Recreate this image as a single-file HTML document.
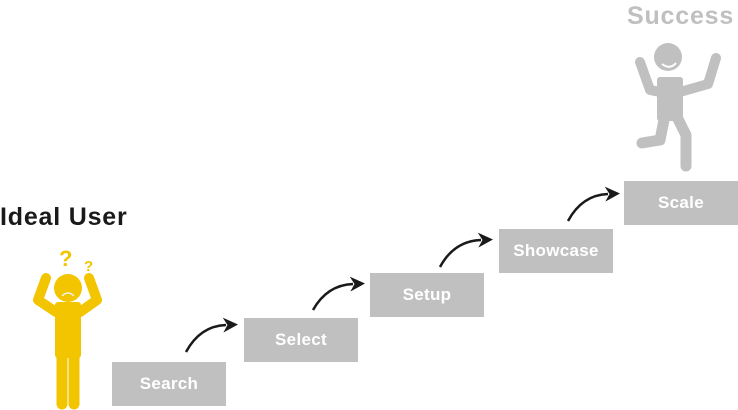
<!DOCTYPE html>
<html><head><style>
body{margin:0;width:738px;height:410px;background:#fff;overflow:hidden;position:relative;font-family:"Liberation Sans",sans-serif}
.b{position:absolute;width:114px;height:44px;background:#c0c0c0;color:#fff;font-weight:bold;font-size:17px;letter-spacing:0.3px;display:flex;align-items:center;justify-content:center}
.t{position:absolute;font-weight:bold;font-size:25px;letter-spacing:0.8px}
</style></head><body>
<div class="t" style="left:0;top:203px;color:#1a1a1a">Ideal User</div>
<div class="t" style="left:627px;top:2px;color:#c0c0c0">Success</div>
<div class="b" style="left:112px;top:362px">Search</div>
<div class="b" style="left:244px;top:318px">Select</div>
<div class="b" style="left:370px;top:273px">Setup</div>
<div class="b" style="left:499px;top:229px">Showcase</div>
<div class="b" style="left:624px;top:181px">Scale</div>
<svg width="738" height="410" style="position:absolute;left:0;top:0">
<defs>
<marker id="m" viewBox="0 0 10 10" refX="2" refY="5" markerWidth="15" markerHeight="15" orient="auto" markerUnits="userSpaceOnUse"><path d="M0,0L10,5L0,10L3,5Z" fill="#1a1a1a"/></marker></defs>
<g fill="none" stroke="#1a1a1a" stroke-width="2.5" marker-end="url(#m)">
<path d="M186,352 Q200,326 226,325"/>
<path d="M313,310 Q327,285 353,284"/>
<path d="M440,267 Q454,241 481,240"/>
<path d="M568,221 Q582,195 608,194"/>
</g>
<g fill="#f2c500" stroke="#f2c500" stroke-linecap="round" stroke-linejoin="round">
<circle cx="68" cy="288" r="14" stroke="none"/>
<path d="M46,278 L38,300 L56,312 M89,278 L97,300 L80,312" fill="none" stroke-width="10"/>
<rect x="55" y="302" width="26" height="56" rx="3" stroke="none"/>
<path d="M62,352 L62,404 M74,352 L74,404" stroke-width="11" fill="none"/>
<text x="59" y="266" font-size="22" font-weight="bold" stroke="none" font-family="Liberation Sans">?</text>
<text x="84" y="271" font-size="15" font-weight="bold" stroke="none" font-family="Liberation Sans">?</text>
</g>
<path d="M62,296 Q68,290 74,296" stroke="#f2f2f2" stroke-width="1.5" fill="none"/>
<g fill="#c0c0c0" stroke="#c0c0c0" stroke-linecap="round" stroke-linejoin="round">
<circle cx="668" cy="57" r="14" stroke="none"/>
<path d="M640,62 L650,90 L660,92 M716,58 L708,84 L680,92" fill="none" stroke-width="10"/>
<path d="M660,80 L680,80 L680,118 L660,118 Z" stroke-width="6"/>
<path d="M665,115 L660,140 L642,143 M676,115 L686,135 L686,166" stroke-width="11" fill="none"/>
</g>
<path d="M662,64 Q670,70 676,63" stroke="#fff" stroke-width="2" fill="none"/>
</svg>
</body></html>
